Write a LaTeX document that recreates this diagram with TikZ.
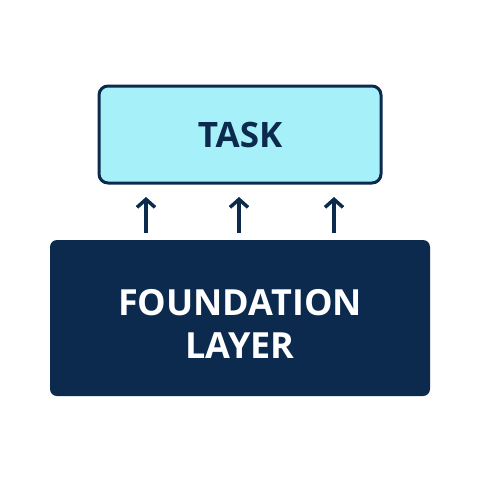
\documentclass[tikz,border=0pt]{standalone}
\usepackage{fontspec}
\setmainfont{Open Sans}
\usetikzlibrary{arrows.meta}
\definecolor{navy}{HTML}{0B2A4E}
\definecolor{cyanfill}{HTML}{A6F0F9}
\tikzset{
  taskbox/.style={draw=navy, line width=3pt, fill=cyanfill, rounded corners=9pt},
  basebox/.style={fill=navy, rounded corners=7pt},
  uparrow/.style={draw=navy, line width=3.5pt, -{Straight Barb[length=8pt,width=18pt,line width=3.5pt]}},
}
\begin{document}
\begin{tikzpicture}[x=1pt,y=-1pt]
\useasboundingbox (0,0) rectangle (480,480);
\fill[white] (0,0) rectangle (480,480);
\path[taskbox] (99,86) rectangle (381,183);
\node (task) at (240,134.5) {\fontsize{35}{35}\selectfont\bfseries\color{navy}TASK};
\path[basebox] (50,240) rectangle (430,396);
\node[align=center, text=white, font=\fontsize{36}{43}\selectfont\bfseries] (found) at (240,324) {FOUNDATION\\LAYER};
\coordinate (a1s) at (146,233); \coordinate (a1e) at (146,197);
\coordinate (a2s) at (239,233); \coordinate (a2e) at (239,197);
\coordinate (a3s) at (334,233); \coordinate (a3e) at (334,197);
\draw[uparrow] (a1s) -- (a1e);
\draw[uparrow] (a2s) -- (a2e);
\draw[uparrow] (a3s) -- (a3e);
\end{tikzpicture}
\end{document}
